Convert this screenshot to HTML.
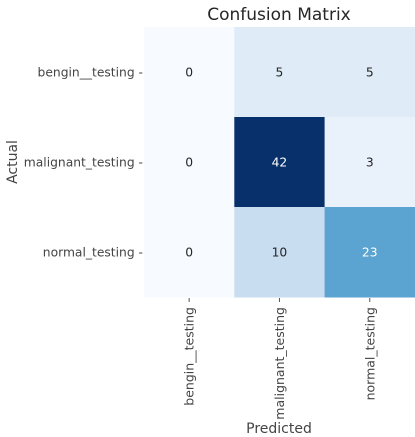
<!DOCTYPE html>
<html><head><meta charset="utf-8"><style>
body{margin:0;background:#fff;width:415px;height:433px;overflow:hidden;font-family:"DejaVu Sans","Liberation Sans",sans-serif}
</style></head><body>
<svg id="chart" width="415" height="433" xmlns="http://www.w3.org/2000/svg">
<text x="279" y="20" text-anchor="middle" font-size="17" fill="#262626">Confusion Matrix</text>
<text transform="translate(17,162) rotate(-90)" text-anchor="middle" font-size="14" fill="#444">Actual</text>
<text x="279" y="433" text-anchor="middle" font-size="14" fill="#444">Predicted</text>
<g id="cells"></g>
</svg>
<script>
const rowLabels=["bengin__testing","malignant_testing","normal_testing"];
const colLabels=["bengin__testing","malignant_testing","normal_testing"];
const row0=[0,5,5];
const row1=[0,42,3];
const row2=[0,10,23];
const matrix=[row0,row1,row2];
const svg=document.getElementById('chart');
const g=document.getElementById('cells');
const NS="http://www.w3.org/2000/svg";
const x0=144,y0=27,cw=90.3,ch=90;
const vmax=Math.max(...matrix.flat());
const stops=[[247,251,255],[222,235,247],[198,219,239],[158,202,225],[107,174,214],[66,146,198],[33,113,181],[8,81,156],[8,48,107]];
function color(v){const t=v/vmax*(stops.length-1);const i=Math.min(Math.floor(t),stops.length-2);const f=t-i;const a=stops[i],b=stops[i+1];return `rgb(${a.map((c,k)=>Math.round(c+(b[k]-c)*f)).join(',')})`;}
function xs(j){return x0+j*cw;}
function ys(i){return y0+i*ch;}
matrix.forEach((row,i)=>row.forEach((v,j)=>{
 const r=document.createElementNS(NS,'rect');
 r.setAttribute('x',xs(j));r.setAttribute('y',ys(i));r.setAttribute('width',cw+0.5);r.setAttribute('height',ch+0.5);r.setAttribute('fill',color(v));
 
 
 g.appendChild(r);
 const t=document.createElementNS(NS,'text');
 t.setAttribute('x',xs(j)+cw/2);t.setAttribute('y',ys(i)+ch/2+4.5);t.setAttribute('text-anchor','middle');t.setAttribute('font-size','12.3');
 t.setAttribute('fill',v/vmax>0.5?'#fff':'#262626');
 t.textContent=v;
 
 
 g.appendChild(t);
}));
rowLabels.forEach((l,i)=>{
 const t=document.createElementNS(NS,'text');
 t.setAttribute('x',143);t.setAttribute('y',ys(i)+ch/2+4.5);t.setAttribute('text-anchor','end');t.setAttribute('font-size','12.3');t.setAttribute('fill','#444');
 t.textContent=l+' -';
 
 
 svg.appendChild(t);
});
colLabels.forEach((l,j)=>{
 const cx=xs(j)+cw/2;
 const tk=document.createElementNS(NS,'line');
 tk.setAttribute('x1',cx);tk.setAttribute('x2',cx);tk.setAttribute('y1',298);tk.setAttribute('y2',302);tk.setAttribute('stroke','#555');
 
 
 svg.appendChild(tk);
 const t=document.createElementNS(NS,'text');
 t.setAttribute('transform',`translate(${cx+4.5},307) rotate(-90)`);t.setAttribute('text-anchor','end');t.setAttribute('font-size','12.5');t.setAttribute('fill','#444');
 t.textContent=l;
 
 
 svg.appendChild(t);
});
</script>
</body></html>
